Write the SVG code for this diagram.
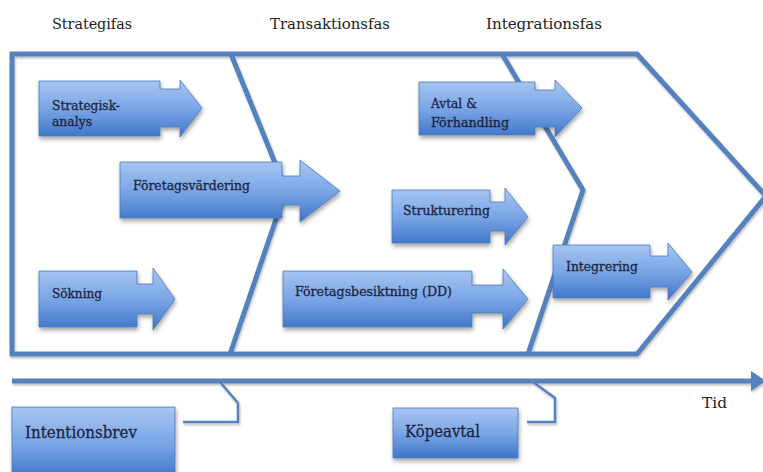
<svg xmlns="http://www.w3.org/2000/svg" width="763" height="472" viewBox="0 0 763 472">
<defs>
<linearGradient id="g" x1="0" y1="0" x2="0" y2="1">
<stop offset="0" stop-color="#a9c6f2"/>
<stop offset="0.5" stop-color="#7aa6e6"/>
<stop offset="1" stop-color="#3f75c8"/>
</linearGradient>
<filter id="sh" x="-10%" y="-10%" width="130%" height="140%">
<feDropShadow dx="1" dy="3" stdDeviation="2" flood-color="#000" flood-opacity="0.35"/>
</filter>
<filter id="lsh" x="-5%" y="-5%" width="110%" height="110%">
<feDropShadow dx="1" dy="2" stdDeviation="1.2" flood-color="#000" flood-opacity="0.25"/>
</filter>
</defs>
<style>
.frame{fill:none;stroke:#5582bf;stroke-width:5;stroke-linejoin:miter}
.brk{fill:none;stroke:#5582bf;stroke-width:2.5}
.box{fill:url(#g);stroke:#4a78b8;stroke-width:0.8;filter:url(#sh)}
.t{font-family:"DejaVu Serif","Liberation Serif",serif;fill:#1e2440;stroke:#1e2440;stroke-width:0.3}
.h{font-family:"DejaVu Serif","Liberation Serif",serif;fill:#222;font-size:14.5px}
.lbl{font-size:12px}
.big{font-size:17px}
</style>
<rect width="763" height="472" fill="#fff"/>
<g id="titles">
<text class="h" x="52" y="29" textLength="80" lengthAdjust="spacingAndGlyphs">Strategifas</text>
<text class="h" x="270" y="29" textLength="120" lengthAdjust="spacingAndGlyphs">Transaktionsfas</text>
<text class="h" x="486" y="29" textLength="116" lengthAdjust="spacingAndGlyphs">Integrationsfas</text>
<text class="h" x="702" y="408" textLength="25" lengthAdjust="spacingAndGlyphs">Tid</text>
</g>
<g id="connectors" filter="url(#lsh)">
<path class="frame" d="M12,354 V54 H637 L766,196 L637,354 Z"/>
<polyline class="frame" points="231,54 286,190 230,354"/>
<polyline class="frame" points="502,54 583,190 528,354"/>
<line class="frame" x1="12" y1="381" x2="753" y2="381"/>
<polygon points="751,371 766,381 751,391" fill="#5582bf"/>
<path class="brk" d="M220,382 L238,403 V422 H183"/>
<path class="brk" d="M533,382 L555,398 V422 H527"/>
</g>
<g id="strategisk">
<path class="box" d="M39,81 H160 V89 H180 V80 L202,108 L180,137 V127 H160 V136 H39 Z"/>
<text class="t lbl" x="52" y="110" textLength="68" lengthAdjust="spacingAndGlyphs">Strategisk-</text>
<text class="t lbl" x="52" y="126" textLength="40" lengthAdjust="spacingAndGlyphs">analys</text>
</g>
<g id="foretagsvardering">
<path class="box" d="M120,162 H282 V176 H300 V160 L340,191 L300,222 V205 H282 V218 H120 Z"/>
<text class="t lbl" x="133" y="190" textLength="117" lengthAdjust="spacingAndGlyphs">Företagsvärdering</text>
</g>
<g id="sokning">
<path class="box" d="M39,271 H137 V284 H153 V268 L175,299 L153,330 V314 H137 V327 H39 Z"/>
<text class="t lbl" x="52" y="298" textLength="50" lengthAdjust="spacingAndGlyphs">Sökning</text>
</g>
<g id="besiktning">
<path class="box" d="M283,271 H472 V285 H503 V269 L528,299 L503,329 V313 H472 V327 H283 Z"/>
<text class="t lbl" x="295" y="296" textLength="157" lengthAdjust="spacingAndGlyphs">Företagsbesiktning (DD)</text>
</g>
<g id="strukturering">
<path class="box" d="M392,190 H490 V202 H505 V188 L528,217 L505,245 V231 H490 V243 H392 Z"/>
<text class="t lbl" x="403" y="215" textLength="87" lengthAdjust="spacingAndGlyphs">Strukturering</text>
</g>
<g id="avtal">
<path class="box" d="M419,82 H535 V90 H555 V80 L582,108 L555,137 V127 H535 V135 H419 Z"/>
<text class="t lbl" x="431" y="108" textLength="46" lengthAdjust="spacingAndGlyphs">Avtal &amp;</text>
<text class="t lbl" x="431" y="127" textLength="78" lengthAdjust="spacingAndGlyphs">Förhandling</text>
</g>
<g id="integrering">
<path class="box" d="M553,245 H650 V256 H668 V243 L692,272 L668,300 V287 H650 V298 H553 Z"/>
<text class="t lbl" x="566" y="271" textLength="72" lengthAdjust="spacingAndGlyphs">Integrering</text>
</g>
<g id="intentionsbrev">
<rect class="box" x="12" y="407" width="163" height="72"/>
<text class="t big" x="25" y="438" textLength="112" lengthAdjust="spacingAndGlyphs">Intentionsbrev</text>
</g>
<g id="kopeavtal">
<rect class="box" x="393" y="408" width="125" height="50"/>
<text class="t big" x="405" y="437" textLength="75" lengthAdjust="spacingAndGlyphs">Köpeavtal</text>
</g>
</svg>
